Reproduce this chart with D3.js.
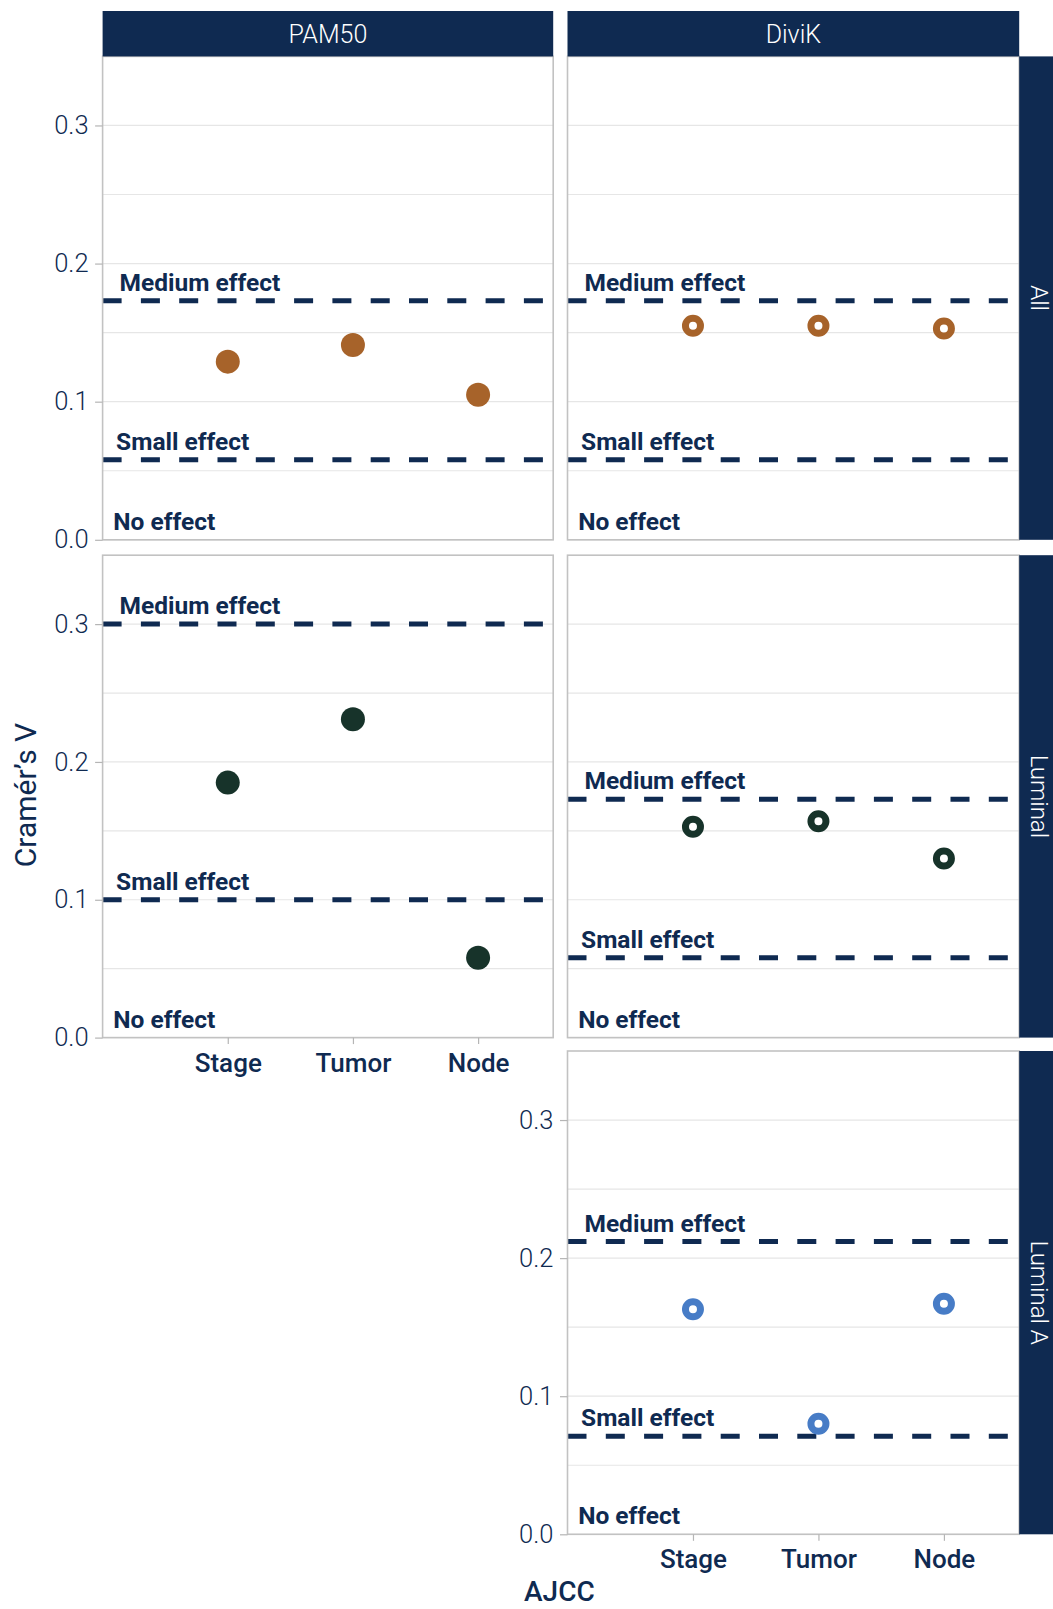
<!DOCTYPE html>
<html>
<head>
<meta charset="utf-8">
<script src="https://cdn.jsdelivr.net/npm/d3@7"></script>
<style>
  html, body { margin: 0; padding: 0; background: #ffffff; }
  svg { display: block; }
  text { font-family: Roboto, "Noto Sans", sans-serif; }
</style>
</head>
<body>
<div id="chart"></div>
<script>
// Cramér's V between AJCC staging variables and clusterings, faceted by method and subset
const categories = ["Stage", "Tumor", "Node"];
const methods = ["PAM50", "DiviK"];
const subsets = ["All", "Luminal", "Luminal A"];

const pam50All = [0.129, 0.141, 0.105];
const divikAll = [0.155, 0.155, 0.153];
const pam50Luminal = [0.185, 0.231, 0.058];
const divikLuminal = [0.153, 0.157, 0.130];
const divikLuminalA = [0.163, 0.080, 0.167];

// Cohen's effect-size thresholds per panel (depend on degrees of freedom)
const smallEffect = [0.058, 0.058, 0.100, 0.058, 0.071];
const mediumEffect = [0.173, 0.173, 0.300, 0.173, 0.212];

const yTicks = [0, 0.1, 0.2, 0.3];
const yGrid = [0, 0.05, 0.1, 0.15, 0.2, 0.25, 0.3];
const yMax = 0.35;

const subsetColor = { "All": "#a7632a", "Luminal": "#17332a", "Luminal A": "#477cc6" };
const navy = "#0f2a51";

const W = 1053, H = 1609;
const colX = [[102.6, 553.2], [567.5, 1019.2]];
const rowY = [[56.4, 539.8], [555.2, 1037.6], [1051, 1534.3]];
const stripTop = 11;
const stripRight = 1065;

const panels = [
  { method: methods[0], subset: subsets[0], values: pam50All,      col: 0, row: 0, yAxis: true,  xAxis: false },
  { method: methods[1], subset: subsets[0], values: divikAll,      col: 1, row: 0, yAxis: false, xAxis: false },
  { method: methods[0], subset: subsets[1], values: pam50Luminal,  col: 0, row: 1, yAxis: true,  xAxis: true  },
  { method: methods[1], subset: subsets[1], values: divikLuminal,  col: 1, row: 1, yAxis: false, xAxis: false },
  { method: methods[1], subset: subsets[2], values: divikLuminalA, col: 1, row: 2, yAxis: true,  xAxis: true  }
];
panels.forEach((p, i) => { p.small = smallEffect[i]; p.medium = mediumEffect[i]; });

const svg = d3.select("#chart").append("svg")
  .attr("width", W).attr("height", H);

panels.forEach(p => {
  const [x0, x1] = colX[p.col];
  const [y0, y1] = rowY[p.row];
  const x = d3.scaleLinear().domain([0, categories.length + 0.6]).range([x0, x1]);
  const y = d3.scaleLinear().domain([0, yMax]).range([y1, y0]);
  const g = svg.append("g");

  g.append("rect").attr("x", x0).attr("y", y0).attr("width", x1 - x0).attr("height", y1 - y0)
    .attr("fill", "#ffffff");

  // horizontal gridlines
  g.selectAll(".grid").data(yGrid).join("line")
    .attr("x1", x0).attr("x2", x1)
    .attr("y1", d => y(d)).attr("y2", d => y(d))
    .attr("stroke", "#e6e6e6").attr("stroke-width", 1.2);

  // effect-size thresholds
  g.selectAll(".thr").data([p.medium, p.small]).join("line")
    .attr("x1", x0).attr("x2", x1)
    .attr("y1", d => y(d)).attr("y2", d => y(d))
    .attr("stroke", navy).attr("stroke-width", 5)
    .attr("stroke-dasharray", "19 19.3");

  const labels = [
    { text: "Medium effect", v: p.medium, at: 0.135 },
    { text: "Small effect",  v: p.small,  at: 0.108 },
    { text: "No effect",     v: 0,        at: 0.085 }
  ];
  g.selectAll(".lab").data(labels).join("text")
    .attr("x", d => x(d.at)).attr("y", d => y(d.v) - 10)
    .attr("font-size", 24.5).attr("font-weight", 700)
    .attr("fill", navy)
    .text(d => d.text);

  // points: filled for PAM50, open rings for DiviK
  const col = subsetColor[p.subset];
  const filled = p.method === "PAM50";
  g.selectAll(".pt").data(p.values).join("circle")
    .attr("cx", (d, i) => x(i + 1)).attr("cy", d => y(d))
    .attr("r", filled ? 12 : 7.5)
    .attr("fill", filled ? col : "#ffffff")
    .attr("stroke", filled ? "none" : col)
    .attr("stroke-width", filled ? 0 : 7);

  g.append("rect").attr("x", x0).attr("y", y0).attr("width", x1 - x0).attr("height", y1 - y0)
    .attr("fill", "none").attr("stroke", "#c2c2c2").attr("stroke-width", 1.6);

  if (p.yAxis) {
    const ax = g.append("g").attr("transform", `translate(${x0},0)`)
      .call(d3.axisLeft(y).tickValues(yTicks).tickFormat(d3.format(".1f")).tickSize(7.5).tickPadding(6.5));
    ax.select(".domain").remove();
    ax.selectAll(".tick line").attr("stroke", "#b5b5b5").attr("stroke-width", 1.2);
    ax.selectAll(".tick text").attr("font-size", 25.5).attr("font-weight", 300)
      .attr("fill", navy).attr("font-family", "Roboto, sans-serif");
  }
  if (p.xAxis) {
    const ax = g.append("g").attr("transform", `translate(0,${y1})`)
      .call(d3.axisBottom(x).tickValues([1, 2, 3]).tickFormat(d => categories[d - 1]).tickSize(6.5).tickPadding(9));
    ax.select(".domain").remove();
    ax.selectAll(".tick line").attr("stroke", "#b5b5b5").attr("stroke-width", 1.2);
    ax.selectAll(".tick text").attr("font-size", 26).attr("font-weight", 500)
      .attr("fill", navy).attr("font-family", "Roboto, sans-serif");
  }
});

// column strips
methods.forEach((m, c) => {
  const [x0, x1] = colX[c];
  svg.append("rect").attr("x", x0).attr("y", stripTop).attr("width", x1 - x0).attr("height", rowY[0][0] - stripTop)
    .attr("fill", navy);
  svg.append("text").attr("x", (x0 + x1) / 2).attr("y", 43.3)
    .attr("text-anchor", "middle").attr("font-size", 25).attr("font-weight", 300)
    .attr("fill", "#ffffff").text(m);
});

// row strips
subsets.forEach((s, r) => {
  const [y0, y1] = rowY[r];
  const xs = colX[1][1];
  svg.append("rect").attr("x", xs).attr("y", y0).attr("width", stripRight - xs).attr("height", y1 - y0)
    .attr("fill", navy);
  svg.append("text")
    .attr("transform", `translate(${xs + 20},${(y0 + y1) / 2}) rotate(90)`)
    .attr("text-anchor", "middle").attr("dominant-baseline", "central")
    .attr("font-size", 24).attr("font-weight", 300)
    .attr("fill", "#ffffff").text(s);
});

// axis titles
svg.append("text")
  .attr("transform", `translate(36,795) rotate(-90)`)
  .attr("text-anchor", "middle").attr("font-size", 30).attr("font-weight", 400)
  .attr("fill", navy).text("Cramér’s V");

svg.append("text").attr("x", 524).attr("y", 1601)
  .attr("font-size", 28).attr("font-weight", 500)
  .attr("fill", navy).text("AJCC");
</script>
</body>
</html>
